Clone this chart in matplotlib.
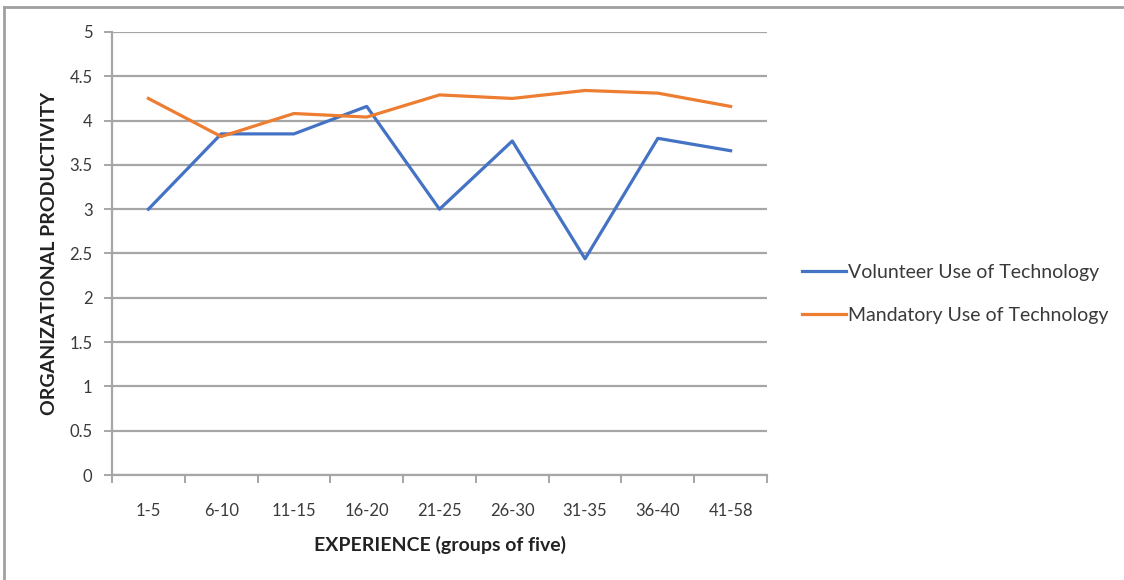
import matplotlib
matplotlib.use("Agg")
import matplotlib.pyplot as plt
from matplotlib.lines import Line2D

plt.rcParams['font.family'] = ['Lato', 'DejaVu Sans']

categories = ["1-5", "6-10", "11-15", "16-20", "21-25", "26-30", "31-35", "36-40", "41-58"]
volunteer = [3.0, 3.85, 3.85, 4.16, 3.0, 3.77, 2.44, 3.80, 3.66]
mandatory = [4.25, 3.82, 4.08, 4.04, 4.29, 4.25, 4.34, 4.31, 4.16]
y_ticks = [0, 0.5, 1, 1.5, 2, 2.5, 3, 3.5, 4, 4.5, 5]
y_tick_labels = ["0", "0.5", "1", "1.5", "2", "2.5", "3", "3.5", "4", "4.5", "5"]

blue = "#4472C4"
orange = "#ED7D31"
grid_gray = "#A6A6A6"
text_gray = "#3A3A3A"

W, H = 1124, 580
fig = plt.figure(figsize=(W / 100, H / 100), dpi=100)
ax = fig.add_axes([112 / W, 1 - 475 / H, (767 - 112) / W, (475 - 32) / H])

x = list(range(len(categories)))
ax.plot(x, volunteer, color=blue, lw=2.3, solid_joinstyle="round", zorder=3,
        label="Volunteer Use of Technology")
ax.plot(x, mandatory, color=orange, lw=2.3, solid_joinstyle="round", zorder=3,
        label="Mandatory Use of Technology")

ax.set_xlim(-0.5, len(categories) - 0.5)
ax.set_ylim(0, 5)

ax.set_yticks(y_ticks)
ax.set_yticklabels(y_tick_labels)
ax.yaxis.grid(True, color=grid_gray, lw=1.6, zorder=0)
ax.set_axisbelow(True)

# category labels centred, tick marks on category boundaries
ax.set_xticks(x)
ax.set_xticklabels(categories)
ax.set_xticks([i - 0.5 for i in range(len(categories) + 1)], minor=True)
ax.tick_params(axis="x", which="major", length=0, pad=20, labelsize=12, labelcolor=text_gray)
ax.tick_params(axis="x", which="minor", length=6, width=1.4, color=grid_gray)
ax.tick_params(axis="y", which="major", length=6, width=1.4, color=grid_gray, pad=8,
               labelsize=12, labelcolor=text_gray)

for side in ("top", "right"):
    ax.spines[side].set_visible(False)
for side in ("left", "bottom"):
    ax.spines[side].set_color(grid_gray)
    ax.spines[side].set_linewidth(1.6)

ax.set_xlabel("EXPERIENCE (groups of five)", fontsize=14, fontweight="bold",
              color="#222222", labelpad=12)
ax.set_ylabel("ORGANIZATIONAL PRODUCTIVITY", fontsize=14, fontweight="bold",
              color="#222222", labelpad=8)

handles = [Line2D([], [], color=blue, lw=2.3), Line2D([], [], color=orange, lw=2.3)]
fig.legend(handles, ["Volunteer Use of Technology", "Mandatory Use of Technology"],
           loc="center left", bbox_to_anchor=(792 / W, 1 - 294 / H), frameon=False,
           fontsize=14, handlelength=2.3, handletextpad=0.1, labelspacing=1.35,
           labelcolor=text_gray, borderpad=0)

# chart frame
fig.add_artist(Line2D([4 / W, 4 / W], [0, 1 - 7 / H], transform=fig.transFigure,
                      color="#A0A0A0", lw=2))
fig.add_artist(Line2D([4 / W, 1], [1 - 7 / H, 1 - 7 / H], transform=fig.transFigure,
                      color="#A0A0A0", lw=2))

fig.savefig("out.png", dpi=100)
